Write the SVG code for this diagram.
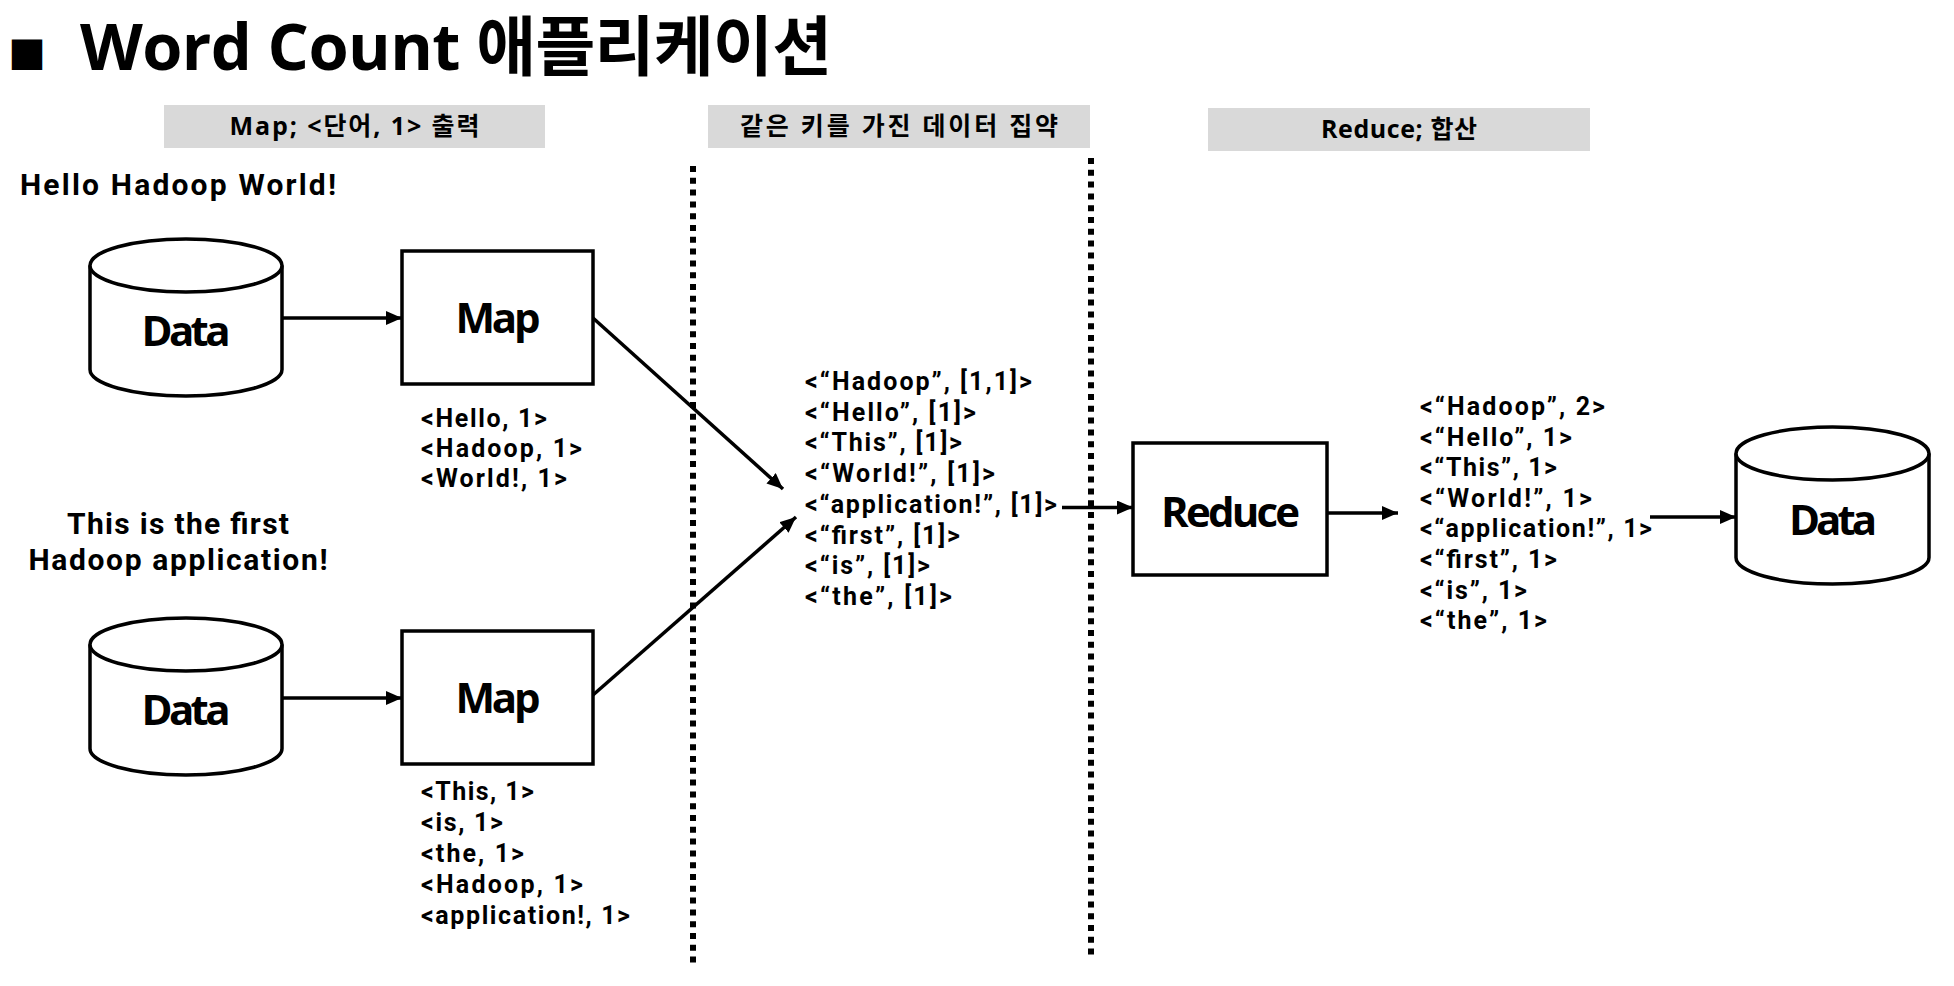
<svg xmlns="http://www.w3.org/2000/svg" width="1954" height="986" viewBox="0 0 1954 986">
<style>
text{font-family:"Open Sans","Noto Sans CJK KR",sans-serif;font-weight:700;fill:#000}
.hdr{font-size:25px;text-anchor:middle}
.kv text{font-family:Roboto,"Open Sans",sans-serif;font-size:25px}
.big{font-size:42px;text-anchor:middle}
.sent{font-family:Roboto,"Open Sans",sans-serif;font-size:30px}
.shape{fill:#fff;stroke:#000;stroke-width:3.5}
.conn{stroke:#000;stroke-width:3.5;fill:none}
.dot{stroke:#000;stroke-width:6;stroke-dasharray:6 5.8;fill:none}
.band{fill:#d9d9d9}
</style>
<defs>
<marker id="ah" markerUnits="userSpaceOnUse" markerWidth="18" markerHeight="16" refX="16" refY="7" orient="auto">
<path d="M0,0 L16,7 L0,14 z" fill="#000"/>
</marker>
</defs>
<rect width="1954" height="986" fill="#fff"/>

<g id="title">
<text x="8" y="69" style="font-family:'Noto Sans CJK KR',sans-serif;font-size:38px">■</text>
<text x="80" y="70" style="font-size:65px" textLength="752" lengthAdjust="spacing">Word Count 애플리케이션</text>
</g>

<g id="headers">
<rect class="band" x="164" y="105" width="381" height="43"/>
<text class="hdr" x="354.5" y="135" textLength="250" lengthAdjust="spacing">Map; &lt;단어, 1&gt; 출력</text>
<rect class="band" x="708" y="105" width="382" height="43"/>
<text class="hdr" x="899" y="135" textLength="318" lengthAdjust="spacing">같은 키를 가진 데이터 집약</text>
<rect class="band" x="1208" y="108" width="382" height="43"/>
<text class="hdr" x="1399" y="138" textLength="156" lengthAdjust="spacing">Reduce; 합산</text>
</g>

<g id="dividers">
<line class="dot" x1="693" y1="166" x2="693" y2="965"/>
<line class="dot" x1="1091" y1="158" x2="1091" y2="957"/>
</g>

<g id="input1">
<text class="sent" x="20" y="195" textLength="316" lengthAdjust="spacing">Hello Hadoop World!</text>
</g>
<g id="input2">
<text class="sent" x="178" y="534" text-anchor="middle" textLength="222" lengthAdjust="spacing">This is the first</text>
<text class="sent" x="178" y="570" text-anchor="middle" textLength="299" lengthAdjust="spacing">Hadoop application!</text>
</g>

<g id="data1">
<path class="shape" d="M90,265.5 V369.5 A96,26.5 0 0 0 282,369.5 V265.5"/>
<ellipse class="shape" cx="186" cy="265.5" rx="96" ry="26.5"/>
<text class="big" x="186" y="346" textLength="89" lengthAdjust="spacing">Data</text>
</g>
<g id="data2">
<path class="shape" d="M90,644.5 V748.5 A96,26.5 0 0 0 282,748.5 V644.5"/>
<ellipse class="shape" cx="186" cy="644.5" rx="96" ry="26.5"/>
<text class="big" x="186" y="725" textLength="89" lengthAdjust="spacing">Data</text>
</g>
<g id="data3">
<path class="shape" d="M1736,453.5 V557.5 A96.5,26.5 0 0 0 1929,557.5 V453.5"/>
<ellipse class="shape" cx="1832.5" cy="453.5" rx="96.5" ry="26.5"/>
<text class="big" x="1833" y="535" textLength="88" lengthAdjust="spacing">Data</text>
</g>

<g id="map1">
<rect class="shape" x="402" y="251" width="191" height="133"/>
<text class="big" x="498" y="333" textLength="85" lengthAdjust="spacing">Map</text>
</g>
<g id="map2">
<rect class="shape" x="402" y="631" width="191" height="133"/>
<text class="big" x="498" y="713" textLength="85" lengthAdjust="spacing">Map</text>
</g>
<g id="reduce">
<rect class="shape" x="1133" y="443" width="194" height="132"/>
<text class="big" x="1230.5" y="527" textLength="139" lengthAdjust="spacing">Reduce</text>
</g>

<g id="map1-out" class="kv">
<text x="421" y="427" textLength="126" lengthAdjust="spacing">&lt;Hello, 1&gt;</text>
<text x="421" y="457" textLength="161" lengthAdjust="spacing">&lt;Hadoop, 1&gt;</text>
<text x="421" y="487" textLength="146" lengthAdjust="spacing">&lt;World!, 1&gt;</text>
</g>
<g id="map2-out" class="kv">
<text x="421" y="800" textLength="113" lengthAdjust="spacing">&lt;This, 1&gt;</text>
<text x="421" y="831" textLength="82" lengthAdjust="spacing">&lt;is, 1&gt;</text>
<text x="421" y="862" textLength="103" lengthAdjust="spacing">&lt;the, 1&gt;</text>
<text x="421" y="893" textLength="162" lengthAdjust="spacing">&lt;Hadoop, 1&gt;</text>
<text x="421" y="924" textLength="209" lengthAdjust="spacing">&lt;application!, 1&gt;</text>
</g>

<g id="grouped" class="kv">
<text x="805" y="390" textLength="227" lengthAdjust="spacing">&lt;“Hadoop”, [1,1]&gt;</text>
<text x="805" y="420.7" textLength="171" lengthAdjust="spacing">&lt;“Hello”, [1]&gt;</text>
<text x="805" y="451.4" textLength="157" lengthAdjust="spacing">&lt;“This”, [1]&gt;</text>
<text x="805" y="482.1" textLength="190" lengthAdjust="spacing">&lt;“World!”, [1]&gt;</text>
<text x="805" y="512.8" textLength="252" lengthAdjust="spacing">&lt;“application!”, [1]&gt;</text>
<text x="805" y="543.5" textLength="155" lengthAdjust="spacing">&lt;“first”, [1]&gt;</text>
<text x="805" y="574.2" textLength="125" lengthAdjust="spacing">&lt;“is”, [1]&gt;</text>
<text x="805" y="604.9" textLength="147" lengthAdjust="spacing">&lt;“the”, [1]&gt;</text>
</g>

<g id="reduced" class="kv">
<text x="1420" y="415" textLength="185" lengthAdjust="spacing">&lt;“Hadoop”, 2&gt;</text>
<text x="1420" y="445.6" textLength="152" lengthAdjust="spacing">&lt;“Hello”, 1&gt;</text>
<text x="1420" y="476.2" textLength="137" lengthAdjust="spacing">&lt;“This”, 1&gt;</text>
<text x="1420" y="506.8" textLength="172" lengthAdjust="spacing">&lt;“World!”, 1&gt;</text>
<text x="1420" y="537.4" textLength="232" lengthAdjust="spacing">&lt;“application!”, 1&gt;</text>
<text x="1420" y="568" textLength="137" lengthAdjust="spacing">&lt;“first”, 1&gt;</text>
<text x="1420" y="598.6" textLength="107" lengthAdjust="spacing">&lt;“is”, 1&gt;</text>
<text x="1420" y="629.2" textLength="127" lengthAdjust="spacing">&lt;“the”, 1&gt;</text>
</g>

<g id="connectors">
<line class="conn" x1="282" y1="318" x2="402" y2="318" marker-end="url(#ah)"/>
<line class="conn" x1="282" y1="698" x2="402" y2="698" marker-end="url(#ah)"/>
<line class="conn" x1="593" y1="318" x2="783" y2="489" marker-end="url(#ah)"/>
<line class="conn" x1="593" y1="695" x2="796" y2="517" marker-end="url(#ah)"/>
<line class="conn" x1="1062" y1="507.5" x2="1133" y2="507.5" marker-end="url(#ah)"/>
<line class="conn" x1="1327" y1="513" x2="1398" y2="513" marker-end="url(#ah)"/>
<line class="conn" x1="1650" y1="517" x2="1736" y2="517" marker-end="url(#ah)"/>
</g>
</svg>
